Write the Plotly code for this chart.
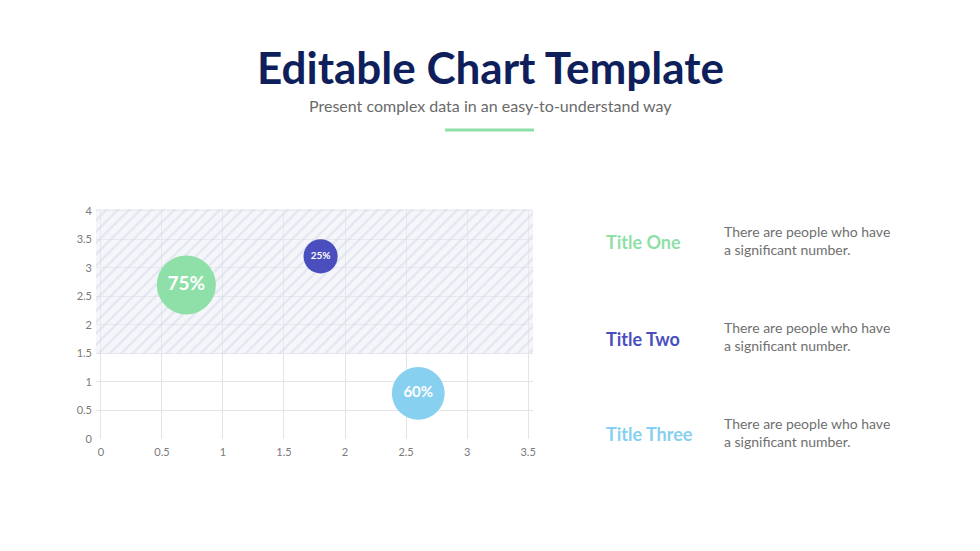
import plotly.graph_objects as go

# Data
labels = ["75%", "25%", "60%"]
x_vals = [0.7, 1.8, 2.6]
y_vals = [2.7, 3.2, 0.8]
bubble_vals = [75, 25, 60]
bubble_colors = ["#8fdfa8", "#4b4fbe", "#87d0f0"]
band_low = 1.5
band_high = 4.03
x_ticks = [0, 0.5, 1, 1.5, 2, 2.5, 3, 3.5]
y_ticks = [0, 0.5, 1, 1.5, 2, 2.5, 3, 3.5, 4]
titles = ["Title One", "Title Two", "Title Three"]
descriptions = ["There are people who have<br>a significant number."] * 3

# Page geometry (pixels) -- the html body adds an 8px margin, so shift everything
OFF = 8
W, H = 980, 551
L, R, T, B = 96 - OFF, 533 - OFF, 209 - OFF, 439 - OFF


def px_x(p):
    return (p - OFF - L) / (R - L)


def px_y(p):
    return (B - (p - OFF)) / (B - T)


fig = go.Figure()

# hatched band
fig.add_trace(go.Scatter(
    x=[-0.04, 3.54, 3.54, -0.04, -0.04],
    y=[band_low, band_low, band_high, band_high, band_low],
    mode="lines", line=dict(width=0), fill="toself",
    fillcolor="rgba(232,235,245,0.5)",
    fillpattern=dict(shape="/", size=8, solidity=0.3,
                     fgcolor="#d3d7e8", bgcolor="rgba(236,238,246,0.5)"),
    hoverinfo="skip", showlegend=False,
))

fig.add_trace(go.Scatter(
    x=x_vals, y=y_vals, mode="markers+text",
    text=labels, textposition="middle center",
    textfont=dict(family="Lato", color="white", size=[19, 10, 15], weight="bold"),
    marker=dict(size=bubble_vals, sizemode="area", sizeref=0.043,
                color=bubble_colors, line=dict(width=0), opacity=1),
    cliponaxis=False, showlegend=False,
))

fig.update_xaxes(range=[-0.04, 3.54], tickvals=x_ticks, ticktext=[f"{v:g}" for v in x_ticks],
                 showgrid=True, gridcolor="#e4e4e8", gridwidth=1, zeroline=False,
                 showline=False, ticks="", ticklabelstandoff=5,
                 tickfont=dict(family="Lato", size=11, color="#7a7a7a"))
fig.update_yaxes(range=[0, band_high], tickvals=y_ticks, ticktext=[f"{v:g}" for v in y_ticks],
                 showgrid=True, gridcolor="#e4e4e8", gridwidth=1, zeroline=False,
                 showline=False, ticks="", ticklabelstandoff=3,
                 tickfont=dict(family="Lato", size=11, color="#7a7a7a"))

annotations = [
    dict(text="<b>Editable Chart Template</b>", x=px_x(490), y=px_y(67),
         font=dict(family="Lato", size=44, color="#0e1f5b")),
    dict(text="Present complex data in an easy-to-understand way", x=px_x(490), y=px_y(106),
         font=dict(family="Lato", size=16, color="#6a6a6a")),
]
title_y = [242, 339, 434]
desc_y = [240, 336, 432]
for t, d, c, ty, dy in zip(titles, descriptions, bubble_colors, title_y, desc_y):
    annotations.append(dict(text=f"<b>{t}</b>", x=px_x(604), y=px_y(ty), xanchor="left",
                            font=dict(family="Lato", size=18, color=c)))
    annotations.append(dict(text=d, x=px_x(722), y=px_y(dy), xanchor="left", align="left",
                            font=dict(family="Lato", size=14, color="#707070")))
for a in annotations:
    a.update(xref="paper", yref="paper", showarrow=False)
    a.setdefault("xanchor", "center")
    a.setdefault("yanchor", "middle")

fig.update_layout(
    width=W, height=H,
    margin=dict(l=L, r=W - R, t=T, b=H - B),
    paper_bgcolor="white", plot_bgcolor="white",
    annotations=annotations,
    shapes=[dict(type="line", xref="paper", yref="paper",
                 x0=px_x(445), x1=px_x(534), y0=px_y(130), y1=px_y(130),
                 line=dict(color="#8fdfa8", width=3))],
)

fig.write_html("out.html")
